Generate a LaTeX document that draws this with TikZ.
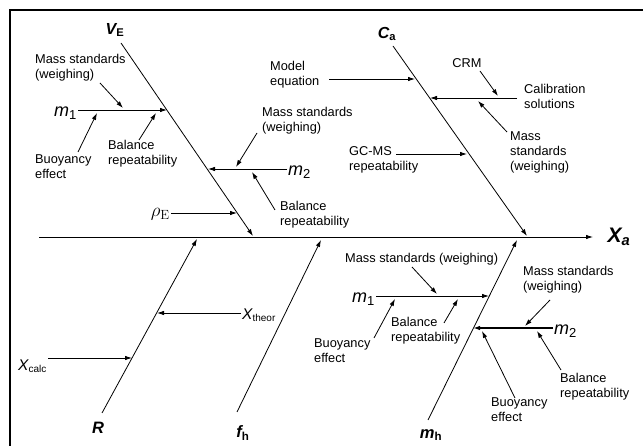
\RequirePackage{fix-cm}
\documentclass[tikz,border=0pt]{standalone}
\usepackage[no-math]{fontspec}
\setmainfont{Liberation Sans}
\usetikzlibrary{arrows.meta}
\newcommand{\lowidx}[2][10]{\textsubscript{\fontsize{#1}{#1}\selectfont\upshape #2}}
\tikzset{
    bone/.style={
        line width=0.8pt,
        -{Latex[length=7pt,width=4.5pt]}
    },
    twig/.style={
        line width=0.8pt,
        -{Latex[length=7pt,width=4.5pt]}
    },
    cause/.style={
        font=\fontsize{12.8}{15}\selectfont,
        align=left,
        inner sep=0pt
    },
    sym/.style={
        font=\fontsize{15.5}{15.5}\selectfont\itshape,
        inner sep=1pt
    },
    mass/.style={
        sym,
        font=\fontsize{18}{18}\selectfont\itshape
    },
    head/.style={
        font=\fontsize{16}{16}\selectfont\bfseries\itshape,
        inner sep=0pt
    },
    foot/.style={
        head,
        font=\fontsize{16.5}{16.5}\selectfont\bfseries\itshape
    }
}

\begin{document}
\begin{tikzpicture}[x=1pt, y=-1pt]
    \useasboundingbox (0,0) rectangle (643,446);

    % Frame
    \draw[line width=2pt] (10,446) -- (10,10) -- (643,10);

    % Bone ends and arrow points
    \coordinate (spL) at (39,237);
    \coordinate (spR) at (593,237);
    \coordinate (vEtop) at (121,43);   \coordinate (vEtip) at (253,236);
    \coordinate (cAtop) at (393,46);   \coordinate (cAtip) at (527,236);
    \coordinate (rBot) at (102,413);   \coordinate (rTip) at (197,239);
    \coordinate (fBot) at (237,412);   \coordinate (fTip) at (321,240);
    \coordinate (mBot) at (428,420);   \coordinate (mTip) at (517,240);

    \coordinate (m1Atip) at (167,110);
    \coordinate (m2Atip) at (208,169);
    \coordinate (rhoTip) at (237,213);
    \coordinate (modelTip) at (415,79);  \coordinate (modelFrom) at (329,79);
    \coordinate (calibTip) at (430,98);  \coordinate (calibFrom) at (517,98);
    \coordinate (gcmsTip) at (467,154);  \coordinate (gcmsFrom) at (396,154);
    \coordinate (xcalcTip) at (132,358);
    \coordinate (xtheorTip) at (157,313);
    \coordinate (m1Btip) at (489,296);
    \coordinate (m2Btip) at (473,328);

    \coordinate (msAfrom) at (100,83);   \coordinate (msAtip) at (123,108);
    \coordinate (buoyAfrom) at (78,152); \coordinate (buoyAtip) at (97,113);
    \coordinate (balAfrom) at (139,140); \coordinate (balAtip) at (156,113);
    \coordinate (msBfrom) at (257,133);  \coordinate (msBtip) at (236,167);
    \coordinate (balBfrom) at (275,210); \coordinate (balBtip) at (252,172);
    \coordinate (crmFrom) at (480,71);   \coordinate (crmTip) at (498,96);
    \coordinate (msCfrom) at (507,132);  \coordinate (msCtip) at (478,101);
    \coordinate (msDfrom) at (412,267);  \coordinate (msDtip) at (437,294);
    \coordinate (buoyDfrom) at (374,338); \coordinate (buoyDtip) at (395,299);
    \coordinate (balDfrom) at (444,323); \coordinate (balDtip) at (458,299);
    \coordinate (msEfrom) at (550,300);  \coordinate (msEtip) at (525,326);
    \coordinate (balEfrom) at (561,370); \coordinate (balEtip) at (537,331);
    \coordinate (buoyEfrom) at (515,398); \coordinate (buoyEtip) at (482,331);

    % Effect and main causes
    \node[head, font=\fontsize{21}{21}\selectfont\bfseries\itshape] (xA) at (619,237) {X\textsubscript{a}};
    \node[head] (vE) at (115,30) {V\textsubscript{\upshape E}};
    \node[head] (cA) at (387,34) {C\textsubscript{\upshape a}};
    \node[foot] (rL) at (98,428) {R};
    \node[foot] (fL) at (243,433) {f\textsubscript{\upshape h}};
    \node[foot] (mL) at (431,435) {m\textsubscript{\upshape h}};

    % V_E causes
    \node[cause, anchor=west] (msA) at (35,68) {Mass standards\\(weighing)};
    \node[cause, anchor=west] (buoyA) at (35,167) {Buoyancy\\effect};
    \node[cause, anchor=west] (balA) at (108,154) {Balance\\repeatability};
    \node[mass, anchor=east] (m1A) at (78,113) {m\lowidx[13]{1}};
    \node[mass, anchor=west] (m2A) at (287,172) {m\lowidx[13]{2}};
    \node[cause, anchor=west] (msB) at (262,121) {Mass standards\\(weighing)};
    \node[cause, anchor=west] (balB) at (280,215) {Balance\\repeatability};
    \node[sym, anchor=east, font=\fontsize{19}{19}\selectfont] (rhoE) at (171,214) {$\rho_{\mathrm{E}}$};

    % C_a causes
    \node[cause, anchor=west] (model) at (270,75) {Model\\equation};
    \node[cause, anchor=west] (gcms) at (349,160) {GC-MS\\repeatability};
    \node[cause] (crm) at (467,63) {CRM};
    \node[cause, anchor=west] (calib) at (524,96) {Calibration\\solutions};
    \node[cause, anchor=west] (msC) at (510,152) {Mass\\standards\\(weighing)};

    % R causes
    \node[sym, anchor=east] (xcalc) at (48,366) {X\lowidx{calc}};
    \node[sym, anchor=west] (xtheor) at (241,315) {X\lowidx{theor}};

    % m_h causes
    \node[cause, anchor=west] (msD) at (345,259) {Mass standards (weighing)};
    \node[mass, anchor=east] (m1B) at (376,299) {m\lowidx[13]{1}};
    \node[cause, anchor=west] (buoyD) at (314,351) {Buoyancy\\effect};
    \node[cause, anchor=west] (balD) at (391,331) {Balance\\repeatability};
    \node[mass, anchor=west] (m2B) at (553,331) {m\lowidx[13]{2}};
    \node[cause, anchor=west] (msE) at (523,280) {Mass standards\\(weighing)};
    \node[cause, anchor=west] (balE) at (560,387) {Balance\\repeatability};
    \node[cause, anchor=west] (buoyE) at (491,410) {Buoyancy\\effect};

    % Spine and bones
    \draw[bone] (spL) -- (spR);
    \draw[bone] (vEtop) -- (vEtip);
    \draw[bone] (cAtop) -- (cAtip);
    \draw[bone] (rBot) -- (rTip);
    \draw[bone] (fBot) -- (fTip);
    \draw[bone] (mBot) -- (mTip);

    % Horizontal branches
    \draw[twig] (m1A.east |- m1Atip) -- (m1Atip);
    \draw[twig] (m2A.west |- m2Atip) -- (m2Atip);
    \draw[twig] (rhoE.east |- rhoTip) -- (rhoTip);
    \draw[twig] (modelFrom) -- (modelTip);
    \draw[twig] (calibFrom) -- (calibTip);
    \draw[twig] (gcmsFrom) -- (gcmsTip);
    \draw[twig] (xcalc.east |- xcalcTip) -- (xcalcTip);
    \draw[twig] (xtheor.west |- xtheorTip) -- (xtheorTip);
    \draw[twig] (m1B.east |- m1Btip) -- (m1Btip);
    \draw[twig, line width=1.3pt] (m2B.west |- m2Btip) -- (m2Btip);

    % Sub-causes
    \draw[twig] (msAfrom) -- (msAtip);
    \draw[twig] (buoyAfrom) -- (buoyAtip);
    \draw[twig] (balAfrom) -- (balAtip);
    \draw[twig] (msBfrom) -- (msBtip);
    \draw[twig] (balBfrom) -- (balBtip);
    \draw[twig] (crmFrom) -- (crmTip);
    \draw[twig] (msCfrom) -- (msCtip);
    \draw[twig] (msDfrom) -- (msDtip);
    \draw[twig] (buoyDfrom) -- (buoyDtip);
    \draw[twig] (balDfrom) -- (balDtip);
    \draw[twig] (msEfrom) -- (msEtip);
    \draw[twig] (balEfrom) -- (balEtip);
    \draw[twig] (buoyEfrom) -- (buoyEtip);

\end{tikzpicture}
\end{document}
